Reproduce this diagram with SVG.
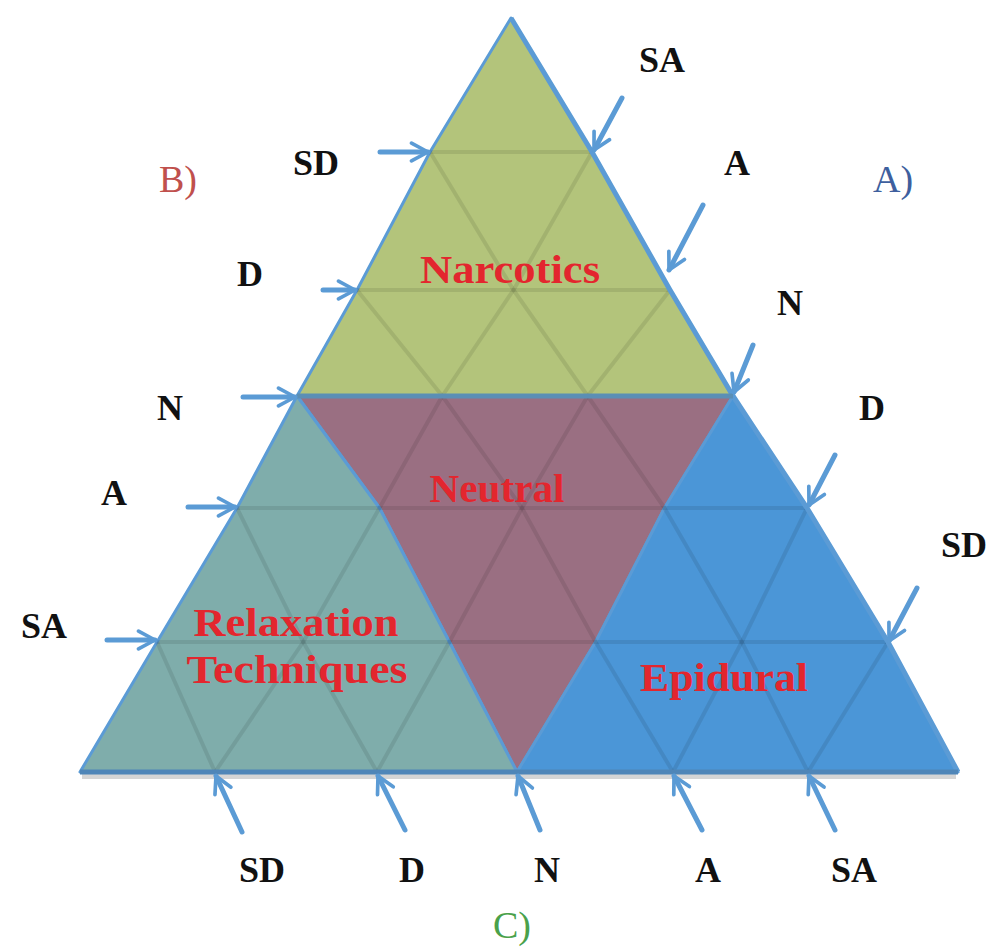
<svg xmlns="http://www.w3.org/2000/svg" width="989" height="949" viewBox="0 0 989 949">
  <style>
    .region { stroke: #5b9bd5; stroke-width: 3; stroke-linejoin: round; }
    .grid { fill: none; stroke: #000; stroke-opacity: 0.09; stroke-width: 4; stroke-linejoin: round; }
    .arrow { fill: none; stroke: #5b9bd5; stroke-width: 5; stroke-linecap: round; marker-end: url(#head); }
    .lbl { font-family: "Liberation Serif", "DejaVu Serif", serif; font-weight: bold; font-size: 36px; fill: #111; text-anchor: middle; }
    .inner { font-family: "Liberation Serif", "DejaVu Serif", serif; font-weight: bold; font-size: 40px; fill: #e3262e; text-anchor: middle; }
    .corner { font-family: "Liberation Serif", "DejaVu Serif", serif; font-size: 38px; text-anchor: middle; }
  </style>
  <defs>
    <marker id="head" viewBox="0 0 12 12" refX="10.5" refY="6" markerWidth="4.4" markerHeight="4.4" orient="auto" markerUnits="strokeWidth">
      <path d="M1.5,1.2 L10.5,6 L1.5,10.8" fill="none" stroke="#5b9bd5" stroke-width="2" stroke-linecap="round" stroke-linejoin="round"/>
    </marker>
  </defs>
  <rect width="989" height="949" fill="#ffffff"/>

  <line x1="82" y1="776" x2="956" y2="776" stroke="#888" stroke-opacity="0.35" stroke-width="6"/>

  <g id="narcotics">
    <polygon class="region" fill="#b3c47b" points="511,18 430,152 357,290 297,396 733,396 670,290 592,152"/>
  </g>
  <g id="neutral">
    <polygon class="region" fill="#9a6f82" points="297,396 733,396 664.5,508 595.6,642 517,772 449.4,642 379.5,508"/>
  </g>
  <g id="relaxation">
    <polygon class="region" fill="#7fadab" points="297,396 237,508 157,642 80,772 517,772 449.4,642 379.5,508"/>
  </g>
  <g id="epidural">
    <polygon class="region" fill="#4b96d7" points="733,396 807,508 888,642 958,772 517,772 595.6,642 664.5,508"/>
  </g>

  <g id="grid">
    <line class="grid" x1="430" y1="152" x2="592" y2="152"/>
    <line class="grid" x1="357" y1="290" x2="670" y2="290"/>
    <line class="grid" x1="237" y1="508" x2="807" y2="508"/>
    <line class="grid" x1="157" y1="642" x2="888" y2="642"/>
    <polyline class="grid" points="592,152 513.5,290 442.3,396 379.5,508 303.2,642 215,772"/>
    <polyline class="grid" points="670,290 587.7,396 522,508 449.4,642 377,772"/>
    <polyline class="grid" points="807,508 741.8,642 673,772"/>
    <polyline class="grid" points="888,642 808,772"/>
    <polyline class="grid" points="430,152 513.5,290 587.7,396 664.5,508 741.8,642 808,772"/>
    <polyline class="grid" points="357,290 442.3,396 522,508 595.6,642 673,772"/>
    <polyline class="grid" points="237,508 303.2,642 377,772"/>
    <polyline class="grid" points="157,642 215,772"/>
  </g>

  <g id="outline" fill="none" stroke-linejoin="round">
    <polyline points="511,18 592,152 670,290 733,396 807,508 888,642 958,772" stroke="#5b9bd5" stroke-width="5"/>
    <line x1="80" y1="772" x2="958" y2="772" stroke="#4f86b8" stroke-width="5"/>
    <line x1="297" y1="396" x2="733" y2="396" stroke="#5b8fb5" stroke-width="5"/>
  </g>

  <g id="connectors">
    <line class="arrow" x1="380" y1="152" x2="428" y2="152"/>
    <line class="arrow" x1="323" y1="290" x2="355" y2="290"/>
    <line class="arrow" x1="243" y1="397" x2="295" y2="397"/>
    <line class="arrow" x1="188" y1="507" x2="235" y2="507"/>
    <line class="arrow" x1="107" y1="640" x2="155" y2="640"/>
    <line class="arrow" x1="622" y1="98" x2="594" y2="150"/>
    <line class="arrow" x1="703" y1="205" x2="669" y2="270"/>
    <line class="arrow" x1="753" y1="345" x2="734" y2="392"/>
    <line class="arrow" x1="835" y1="455" x2="809" y2="505"/>
    <line class="arrow" x1="917" y1="588" x2="889" y2="641"/>
    <line class="arrow" x1="242" y1="832" x2="216" y2="776"/>
    <line class="arrow" x1="405" y1="830" x2="378" y2="776"/>
    <line class="arrow" x1="540" y1="830" x2="518" y2="776"/>
    <line class="arrow" x1="702" y1="830" x2="674" y2="776"/>
    <line class="arrow" x1="835" y1="830" x2="809" y2="776"/>
  </g>

  <g id="region-labels">
    <text class="inner" x="510" y="283" textLength="180" lengthAdjust="spacingAndGlyphs">Narcotics</text>
    <text class="inner" x="497" y="502" textLength="135" lengthAdjust="spacingAndGlyphs">Neutral</text>
    <text class="inner" x="296" y="636" textLength="205" lengthAdjust="spacingAndGlyphs">Relaxation</text>
    <text class="inner" x="297" y="683" textLength="221" lengthAdjust="spacingAndGlyphs">Techniques</text>
    <text class="inner" x="724" y="691" textLength="168" lengthAdjust="spacingAndGlyphs">Epidural</text>
  </g>

  <g id="axis-labels">
    <text class="lbl" x="316" y="175">SD</text>
    <text class="lbl" x="250" y="286">D</text>
    <text class="lbl" x="170" y="420">N</text>
    <text class="lbl" x="114" y="505">A</text>
    <text class="lbl" x="44" y="638">SA</text>
    <text class="lbl" x="662" y="72">SA</text>
    <text class="lbl" x="737" y="175">A</text>
    <text class="lbl" x="790" y="315">N</text>
    <text class="lbl" x="872" y="420">D</text>
    <text class="lbl" x="964" y="557">SD</text>
    <text class="lbl" x="262" y="882">SD</text>
    <text class="lbl" x="412" y="882">D</text>
    <text class="lbl" x="547" y="882">N</text>
    <text class="lbl" x="708" y="882">A</text>
    <text class="lbl" x="854" y="882">SA</text>
    <text class="corner" x="178" y="192" fill="#c0504d">B)</text>
    <text class="corner" x="893" y="192" fill="#3e5f9e">A)</text>
    <text class="corner" x="512" y="938" fill="#4aa14a">C)</text>
  </g>
</svg>
